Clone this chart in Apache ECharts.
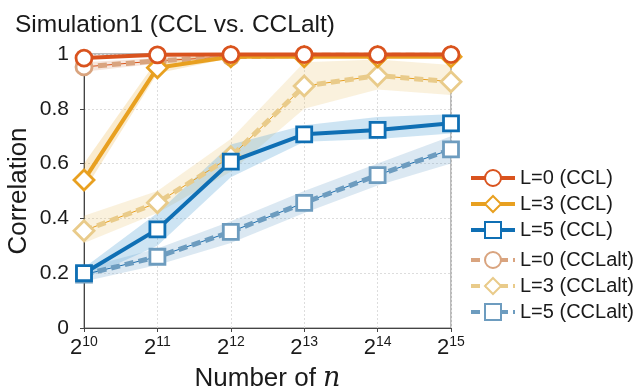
<!DOCTYPE html>
<html><head><meta charset="utf-8">
<script src="https://cdn.jsdelivr.net/npm/echarts@6/dist/echarts.min.js"></script>
<style>html,body{margin:0;padding:0;background:#fff}#c{width:636px;height:390px}</style>
</head><body><div id="c"></div>
<script>
// ---- data ----
const categories = ['10', '11', '12', '13', '14', '15'];
const yTicks = [0, 0.2, 0.4, 0.6, 0.8, 1];
const l0ccl = [0.985, 0.997, 0.998, 0.998, 0.998, 0.998];
const l3ccl = [0.54, 0.95, 0.99, 0.99, 0.99, 0.99];
const l5ccl = [0.20, 0.36, 0.607, 0.707, 0.723, 0.747];
const l0alt = [0.953, 0.975, 0.99, 0.995, 0.995, 0.995];
const l3alt = [0.355, 0.457, 0.625, 0.883, 0.921, 0.899];
const l5alt = [0.195, 0.26, 0.351, 0.457, 0.558, 0.652];
const l3cclLo = [0.50, 0.93, 0.985, 0.985, 0.985, 0.985];
const l3cclHi = [0.60, 0.98, 1.0, 1.0, 1.0, 1.0];
const l5cclLo = [0.18, 0.30, 0.55, 0.68, 0.69, 0.71];
const l5cclHi = [0.22, 0.42, 0.67, 0.74, 0.77, 0.78];
const l0altLo = [0.935, 0.965, 0.985, 0.99, 0.99, 0.99];
const l0altHi = [0.97, 0.985, 0.995, 1.0, 1.0, 1.0];
const l3altLo = [0.31, 0.42, 0.57, 0.80, 0.87, 0.85];
const l3altHi = [0.41, 0.50, 0.69, 0.97, 0.98, 0.96];
const l5altLo = [0.17, 0.23, 0.31, 0.42, 0.52, 0.60];
const l5altHi = [0.22, 0.29, 0.39, 0.50, 0.60, 0.70];
const names = ['L=0 (CCL)', 'L=3 (CCL)', 'L=5 (CCL)', 'L=0 (CCLalt)', 'L=3 (CCLalt)', 'L=5 (CCLalt)'];

// ---- chart ----
const FONT = "'Liberation Sans', Arial, sans-serif";
const TXT = '#1a1a1a';
function band(key, lo, hi, color) {
  return [
    {type: 'line', name: key + '_lo', stack: key, data: lo, symbol: 'none', silent: true,
     lineStyle: {opacity: 0}, z: 1},
    {type: 'line', name: key + '_d', stack: key, data: hi.map((v, i) => v - lo[i]), symbol: 'none', silent: true,
     lineStyle: {opacity: 0}, areaStyle: {color: color, opacity: 1}, z: 1}
  ];
}
function main(name, data, color, symbol, size, z) {
  return {type: 'line', name: name, data: data, symbol: symbol, symbolSize: size, z: z,
    lineStyle: {color: color, width: 4}, itemStyle: {color: '#fff', borderColor: color, borderWidth: 2.8}};
}
function alt(name, data, color, thin, symbol, size, z) {
  return [
    {type: 'line', name: name + '_thin', data: data, symbol: 'none', silent: true, z: z,
     lineStyle: {color: thin, width: 1}},
    {type: 'line', name: name, data: data, symbol: symbol, symbolSize: size, z: z,
     lineStyle: {color: color, width: 5, type: [9, 5]}, itemStyle: {color: '#fff', borderColor: color, borderWidth: 2.8}}
  ];
}
const series = [].concat(
  band('b0a', l0altLo, l0altHi, 'rgba(215,140,100,0.22)'),
  band('b3a', l3altLo, l3altHi, 'rgba(236,200,120,0.25)'),
  band('b5a', l5altLo, l5altHi, 'rgba(110,165,205,0.25)'),
  band('b3c', l3cclLo, l3cclHi, 'rgba(236,175,60,0.25)'),
  band('b5c', l5cclLo, l5cclHi, 'rgba(90,165,215,0.3)'),
  alt(names[5], l5alt, '#6d9cbf', '#1f6fae', 'rect', 15, 3),
  alt(names[4], l3alt, '#e9cb8a', '#e8a020', 'diamond', 20, 3),
  alt(names[3], l0alt, '#d9a47f', '#d95319', 'circle', 16, 3),
  [main(names[2], l5ccl, '#0f6fb4', 'rect', 15, 5),
   main(names[1], l3ccl, '#e8a020', 'diamond', 20, 6),
   main(names[0], l0ccl, '#d9531e', 'circle', 16, 7)]
);
const legendCommon = {orient: 'vertical', left: 464, itemWidth: 44, itemHeight: 20, itemGap: 6,
  lineStyle: {width: 4},
  textStyle: {fontFamily: FONT, fontSize: 20, color: TXT}};
const chart = echarts.init(document.getElementById('c'), null, {renderer: 'canvas'});
chart.setOption({
  backgroundColor: '#fff',
  animation: false,
  title: {text: 'Simulation1 (CCL vs. CCLalt)', left: 10, top: 8,
    textStyle: {fontFamily: FONT, fontSize: 24.5, fontWeight: 'normal', color: TXT}},
  legend: [
    Object.assign({top: 163, data: names.slice(0, 3)}, legendCommon),
    Object.assign({top: 245, data: names.slice(3)}, legendCommon)
  ],
  grid: {left: 84, right: 185, top: 54, bottom: 62, show: true, borderColor: '#777', borderWidth: 1,
    outerBoundsMode: 'none', containLabel: false},
  xAxis: {
    type: 'category', data: categories, boundaryGap: false,
    name: 'Number of {i|n}', nameLocation: 'middle', nameGap: 37,
    nameTextStyle: {fontFamily: FONT, fontSize: 26, color: TXT,
      rich: {i: {fontFamily: 'DejaVu Serif', fontStyle: 'italic', fontSize: 27, color: TXT}}},
    axisLine: {lineStyle: {color: '#444'}},
    axisTick: {alignWithLabel: true, length: 4, lineStyle: {color: '#444'}},
    splitLine: {show: true, lineStyle: {color: '#ddd', type: [2, 2]}},
    axisLabel: {margin: 7, formatter: v => '{b|2}{s|' + v + '}',
      rich: {b: {fontFamily: FONT, fontSize: 22, color: TXT},
             s: {fontFamily: FONT, fontSize: 14, color: TXT, padding: [0, 0, 11, 0]}}}
  },
  yAxis: {
    type: 'value', min: yTicks[0], max: yTicks[yTicks.length - 1], interval: 0.2,
    name: 'Correlation', nameLocation: 'middle', nameGap: 52, nameMoveOverlap: false,
    nameTextStyle: {fontFamily: FONT, fontSize: 26, color: TXT},
    axisLine: {show: true, lineStyle: {color: '#444'}},
    axisTick: {show: true, length: 4, lineStyle: {color: '#444'}},
    splitLine: {show: true, lineStyle: {color: '#ddd', type: [2, 2]}},
    axisLabel: {margin: 15, fontFamily: FONT, fontSize: 21, color: TXT,
      formatter: v => String(Math.round(v * 10) / 10)}
  },
  series: series
});
</script></body></html>
